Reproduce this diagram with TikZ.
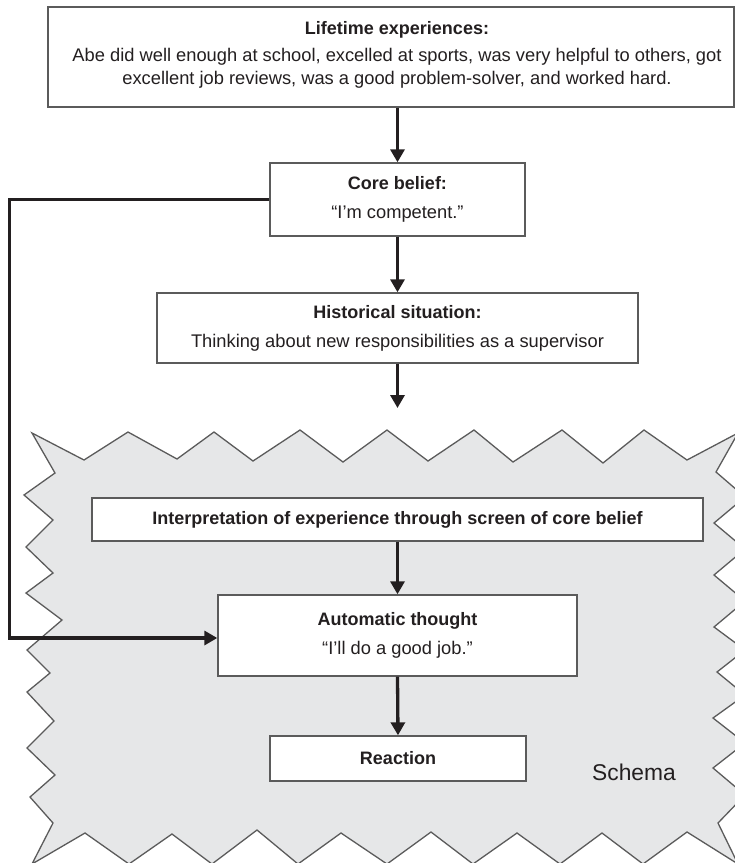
\documentclass[tikz,border=0pt]{standalone}
\usepackage{fontspec}
\setmainfont{Liberation Sans}
\usetikzlibrary{arrows.meta}
\definecolor{ink}{HTML}{231F20}
\definecolor{boxline}{HTML}{5B5B5B}
\definecolor{schemafill}{HTML}{E6E7E8}
\newcommand{\bodyfont}{\fontsize{18.3}{23}\selectfont}
\newcommand{\headfont}{\fontsize{18}{23}\selectfont\bfseries}
\begin{document}
\begin{tikzpicture}[x=1pt,y=-1pt,
  box/.style={draw=boxline, line width=1.4pt, fill=white, inner sep=0pt,
    text=ink, align=center, font=\bodyfont},
  lbl/.style={text=ink, align=center, inner sep=0pt, font=\bodyfont},
  arr/.style={draw=ink, line width=3.3pt, -{Triangle[length=13pt,width=14pt]}}]
\useasboundingbox (0,0) rectangle (735,863);

% jagged "schema" region
\begin{scope}
\clip (0,0) rectangle (735,863);
\filldraw[fill=schemafill, draw=boxline, line width=1.3pt, line join=miter]
  (32,433) -- (84,460) -- (128,432) -- (177,459) -- (214,432) -- (253,461)
  -- (300,430) -- (343,462) -- (387,430) -- (428,461) -- (474,430) -- (513,462)
  -- (562,430) -- (603,463) -- (644,430) -- (687,460) -- (738,433)
  -- (716,472) -- (745,497) -- (714,523) -- (745,549) -- (714,575) -- (745,601)
  -- (714,627) -- (745,650) -- (717,672) -- (745,695) -- (713,718) -- (745,743)
  -- (713,768) -- (745,795) -- (718,823) -- (738,864)
  -- (687,832) -- (643,864) -- (602,833) -- (560,864) -- (517,833) -- (473,864)
  -- (431,832) -- (387,864) -- (341,833) -- (298,864) -- (257,830) -- (212,864)
  -- (172,834) -- (129,864) -- (85,833) -- (32,864)
  -- (53,823) -- (30,797) -- (55,775) -- (27,748) -- (54,721) -- (27,692)
  -- (50,673) -- (27,650) -- (62,620) -- (26,593) -- (53,573) -- (26,547)
  -- (53,520) -- (24,495) -- (55,473) -- cycle;
\end{scope}

% boxes
\node[box, minimum width=686pt, minimum height=100pt] (life) at (391,57) {};
\node[lbl] (lifetxt) at (397,55) {{\headfont Lifetime experiences:}\\[4pt]
  Abe did well enough at school, excelled at sports, was very helpful to others, got\\
  excellent job reviews, was a good problem-solver, and worked hard.};

\node[box, minimum width=255pt, minimum height=73pt] (core) at (397.5,199.5)
  {{\headfont Core belief:}\\[6pt]“I’m competent.”};

\node[box, minimum width=481pt, minimum height=70pt] (hist) at (397.5,328)
  {{\headfont Historical situation:}\\[6pt]Thinking about new responsibilities as a supervisor};

\node[box, minimum width=611pt, minimum height=43pt] (interp) at (397.5,519.5)
  {{\headfont Interpretation of experience through screen of core belief}};

\node[box, minimum width=359pt, minimum height=81pt] (auto) at (397.5,635.5)
  {{\headfont Automatic thought}\\[6pt]“I’ll do a good job.”};

\node[box, minimum width=256pt, minimum height=45pt] (react) at (398,758.5)
  {{\headfont Reaction}};

\node[text=ink, inner sep=0pt, font=\fontsize{22.8}{27}\selectfont] (schema) at (634,772) {Schema};

% connectors
\coordinate (hend) at (397.5,408);
\draw[arr] (life.south -| core.north) -- (core.north);
\draw[arr] (core.south) -- (hist.north);
\draw[arr] (hist.south) -- (hend);
\draw[arr] (interp.south) -- (auto.north);
\draw[arr] (auto.south) -- (react.north);
\draw[arr, line join=miter] (core.west) -- ++(-260,0) |- ([yshift=-2.5pt]auto.west);
\end{tikzpicture}
\end{document}
